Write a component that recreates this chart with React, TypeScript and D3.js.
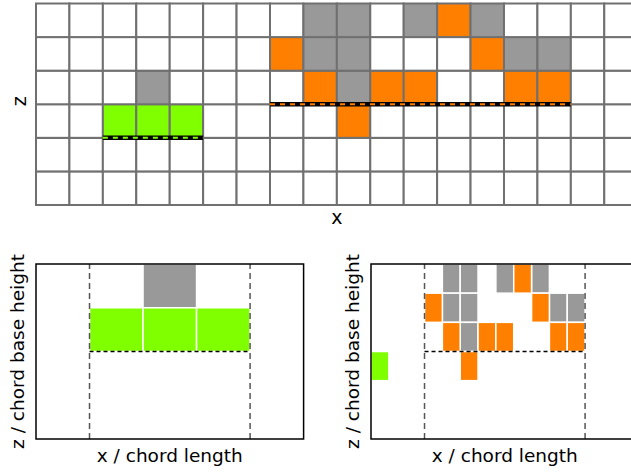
import React from 'react';
import * as d3 from 'd3';

const W = 631;
const H = 472;

// domain size in cells
const nCols = 18;
const nRows = 6;

// occupied cells as [x index, z index], counted from left / from bottom
const grayCells: [number, number][] = [
  [3, 3], [8, 5], [9, 5], [11, 5], [13, 5], [8, 4], [9, 4], [14, 4], [15, 4], [9, 3],
];
const orangeCells: [number, number][] = [
  [12, 5], [7, 4], [13, 4], [8, 3], [10, 3], [11, 3], [14, 3], [15, 3], [9, 2],
];
const greenCells: [number, number][] = [[2, 2], [3, 2], [4, 2]];

// chords: first cell, length in cells, base height in cells
const chordStart = [2, 7];
const chordLength = [3, 9];
const chordBase = [2, 3];
const chordColors = ['#80ff00', '#ff8000'];

// normalised axes limits of the lower panels
const xLim = [-1 / 3, 4 / 3];
const zLim = [0, 2];

const GRAY = '#999999';

const cellColor = (() => {
  const m = new Map<string, string>();
  grayCells.forEach(([i, j]) => m.set(`${i},${j}`, GRAY));
  orangeCells.forEach(([i, j]) => m.set(`${i},${j}`, chordColors[1]));
  greenCells.forEach(([i, j]) => m.set(`${i},${j}`, chordColors[0]));
  return m;
})();

const allCells = Array.from(cellColor.entries()).map(([k, c]) => {
  const [i, j] = k.split(',').map(Number);
  return { i, j, c };
});

const font = 'DejaVu Sans, sans-serif';

const TopGrid = () => {
  const x = d3.scaleLinear().domain([0, nCols]).range([36, 637.7]);
  const y = d3.scaleLinear().domain([0, nRows]).range([205, 3.5]);
  const cells = d3.cross(d3.range(nCols), d3.range(nRows));
  return (
    <g>
      {cells.map(([i, j]) => (
        <rect
          key={`${i}-${j}`}
          x={x(i)}
          y={y(j + 1)}
          width={x(i + 1) - x(i)}
          height={y(j) - y(j + 1)}
          fill={cellColor.get(`${i},${j}`) ?? '#ffffff'}
          stroke="#707070"
          strokeWidth={2}
        />
      ))}
      {chordStart.map((s, k) => (
        <g key={k}>
          <line x1={x(s)} x2={x(s + chordLength[k])} y1={y(chordBase[k])} y2={y(chordBase[k])}
            stroke="#000" strokeWidth={4.5} />
          <line x1={x(s)} x2={x(s + chordLength[k])} y1={y(chordBase[k])} y2={y(chordBase[k])}
            stroke={chordColors[k]} strokeWidth={2} strokeDasharray="5,5" />
        </g>
      ))}
      <text x={(x(0) + x(nCols)) / 2} y={224} textAnchor="middle" fontFamily={font} fontSize={19}>x</text>
      <text transform={`translate(26,${(y(0) + y(nRows)) / 2 - 3}) rotate(-90)`} textAnchor="middle"
        fontFamily={font} fontSize={19}>z</text>
    </g>
  );
};

const ChordPanel = ({ k, left }: { k: number; left: number }) => {
  const x = d3.scaleLinear().domain(xLim).range([left, left + 267.6]);
  const y = d3.scaleLinear().domain(zLim).range([439, 264]);
  const s = chordStart[k];
  const len = chordLength[k];
  const b = chordBase[k];
  const clipId = `clip-${k}`;
  return (
    <g>
      <defs>
        <clipPath id={clipId}>
          <rect x={x(xLim[0])} y={y(zLim[1])} width={x(xLim[1]) - x(xLim[0])} height={y(zLim[0]) - y(zLim[1])} />
        </clipPath>
      </defs>
      <g clipPath={`url(#${clipId})`}>
        {allCells.map(({ i, j, c }) => {
          const x0 = x((i - s) / len);
          const x1 = x((i + 1 - s) / len);
          const z0 = y(j / b);
          const z1 = y((j + 1) / b);
          return (
            <rect key={`${i}-${j}`} x={x0} y={z1} width={x1 - x0} height={z0 - z1}
              fill={c} stroke="#ffffff" strokeWidth={1.5} />
          );
        })}
      </g>
      {[0, 1].map((v) => (
        <line key={v} x1={x(v)} x2={x(v)} y1={y(zLim[0])} y2={y(zLim[1])}
          stroke="#555" strokeWidth={1.5} strokeDasharray="6,4" />
      ))}
      <line x1={x(0)} x2={x(1)} y1={y(1)} y2={y(1)} stroke="#000" strokeWidth={1.5} strokeDasharray="4,3" />
      <rect x={x(xLim[0])} y={y(zLim[1])} width={x(xLim[1]) - x(xLim[0])} height={y(zLim[0]) - y(zLim[1])}
        fill="none" stroke="#000" strokeWidth={1.5} />
      <text x={(x(xLim[0]) + x(xLim[1])) / 2} y={462} textAnchor="middle" fontFamily={font} fontSize={18.5}>
        x / chord length
      </text>
      <text transform={`translate(${left - 12},${(y(zLim[0]) + y(zLim[1])) / 2}) rotate(-90)`}
        textAnchor="middle" fontFamily={font} fontSize={18.5}>
        z / chord base height
      </text>
    </g>
  );
};

export default function App() {
  return (
    <svg width={W} height={H} style={{ position: 'absolute', left: 0, top: 0, background: '#fff' }}>
      <rect width={W} height={H} fill="#fff" />
      <TopGrid />
      <ChordPanel k={0} left={36} />
      <ChordPanel k={1} left={371} />
    </svg>
  );
}
